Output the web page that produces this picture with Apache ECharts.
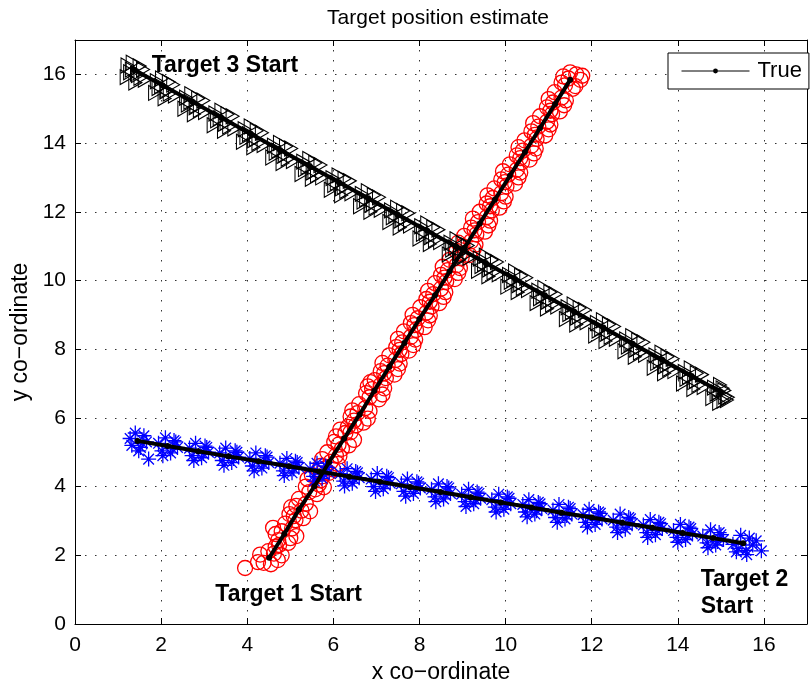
<!DOCTYPE html>
<html>
<head>
<meta charset="utf-8">
<title>Target position estimate</title>
<script src="https://cdn.jsdelivr.net/npm/echarts@6/dist/echarts.min.js"></script>
<style>
  html, body { margin: 0; padding: 0; background: #fff; }
  #chart { width: 810px; height: 689px; }
</style>
</head>
<body>
<div id="chart"></div>
<script>
// Axis ticks
const xTicks = [0, 2, 4, 6, 8, 10, 12, 14, 16];
const yTicks = [0, 2, 4, 6, 8, 10, 12, 14, 16];

// True trajectories (one point per time step)
const target1True = [
  [4.51,1.93],[4.86,2.62],[5.20,3.33],[5.56,4.01],[5.90,4.71],[6.25,5.40],[6.61,6.10],
  [6.95,6.79],[7.30,7.49],[7.65,8.18],[8.00,8.88],[8.36,9.57],[8.70,10.27],[9.05,10.96],
  [9.40,11.66],[9.75,12.35],[10.10,13.05],[10.45,13.74],[10.80,14.44],[11.15,15.14],[11.50,15.84]
];
const target2True = [
  [15.52,2.35],[14.82,2.50],[14.11,2.65],[13.41,2.80],[12.71,2.95],[12.00,3.10],[11.30,3.24],
  [10.60,3.39],[9.89,3.54],[9.19,3.69],[8.49,3.84],[7.78,3.99],[7.08,4.14],[6.37,4.29],
  [5.67,4.44],[4.97,4.59],[4.26,4.74],[3.56,4.88],[2.86,5.03],[2.15,5.18],[1.45,5.33]
];
const target3True = [
  [1.35,16.15],[2.03,15.68],[2.72,15.21],[3.40,14.74],[4.08,14.27],[4.76,13.80],[5.45,13.33],
  [6.13,12.86],[6.81,12.39],[7.49,11.92],[8.18,11.45],[8.86,10.98],[9.54,10.51],[10.22,10.04],
  [10.91,9.57],[11.59,9.10],[12.27,8.63],[12.95,8.16],[13.64,7.69],[14.32,7.22],[15.00,6.75]
];

// Position estimates (circles)
const target1Est = [
  [4.38,1.78],[4.62,2.05],[4.25,1.80],[4.71,1.86],[4.49,2.12],[3.95,1.63],[4.80,2.00],[4.55,1.74],[4.30,2.02],[4.66,2.25],
  [4.72,2.44],[5.04,2.78],[4.66,2.62],[4.95,2.36],[4.88,2.92],[5.14,2.56],[4.60,2.80],[4.80,2.70],[5.00,2.50],[4.74,2.30],
  [5.08,3.14],[5.36,3.50],[5.02,3.40],[5.30,3.08],[5.20,3.64],[5.46,3.28],[4.98,3.20],[5.14,3.44],[5.26,3.30],[5.12,3.02],
  [5.44,3.84],[5.70,4.18],[5.62,3.78],[5.40,4.22],[5.78,3.98],[5.50,4.34],[5.66,4.06],[5.36,4.00],[5.58,3.92],[5.74,4.30],
  [5.80,4.52],[6.06,4.90],[5.74,4.80],[6.00,4.50],[6.10,4.66],[5.86,5.00],[5.94,4.72],[5.70,4.60],[6.14,4.88],[5.90,4.40],
  [6.12,5.22],[6.40,5.58],[6.16,5.66],[6.36,5.20],[6.06,5.46],[6.48,5.36],[6.28,5.56],[6.20,5.10],[6.02,5.30],[6.34,5.74],
  [6.48,5.92],[6.74,6.28],[6.44,6.22],[6.80,5.98],[6.60,6.40],[6.70,5.86],[6.40,6.04],[6.56,6.14],[6.84,6.20],[6.52,5.78],
  [6.84,6.60],[7.10,6.96],[6.80,6.92],[7.14,6.68],[6.96,7.10],[7.06,6.54],[6.76,6.72],[6.90,6.84],[7.18,6.86],[6.86,7.04],
  [7.18,7.30],[7.44,7.68],[7.14,7.60],[7.42,7.26],[7.30,7.82],[7.50,7.42],[7.10,7.36],[7.26,7.52],[7.54,7.58],[7.22,7.16],
  [7.54,7.98],[7.80,8.36],[7.50,8.30],[7.76,7.96],[7.64,8.52],[7.86,8.12],[7.46,8.06],[7.60,8.20],[7.90,8.28],[7.58,7.86],
  [7.88,8.70],[8.16,9.06],[7.84,9.00],[8.12,8.64],[8.02,9.22],[8.20,8.84],[7.80,8.76],[7.96,8.90],[8.24,8.98],[7.92,8.56],
  [8.24,9.38],[8.50,9.76],[8.20,9.70],[8.46,9.34],[8.36,9.92],[8.56,9.52],[8.16,9.46],[8.32,9.60],[8.60,9.66],[8.28,9.24],
  [8.58,10.08],[8.86,10.44],[8.54,10.40],[8.82,10.04],[8.70,10.60],[8.90,10.22],[8.50,10.16],[8.66,10.30],[8.94,10.36],[8.62,9.96],
  [8.94,10.78],[9.20,11.14],[8.90,11.10],[9.16,10.74],[9.04,11.30],[9.26,10.92],[8.86,10.86],[9.00,11.00],[9.30,11.04],[8.98,10.66],
  [9.28,11.46],[9.56,11.84],[9.24,11.80],[9.52,11.42],[9.40,12.00],[9.60,11.60],[9.20,11.54],[9.36,11.70],[9.64,11.74],[9.32,11.34],
  [9.64,12.16],[9.90,12.54],[9.58,12.48],[9.86,12.12],[9.74,12.68],[9.96,12.30],[9.56,12.24],[9.70,12.40],[10.00,12.44],[9.68,12.04],
  [9.98,12.86],[10.26,13.22],[9.94,13.18],[10.22,12.82],[10.10,13.38],[10.30,13.00],[9.90,12.94],[10.06,13.08],[10.34,13.14],[10.02,12.74],
  [10.34,13.56],[10.60,13.92],[10.30,13.88],[10.56,13.52],[10.44,14.08],[10.66,13.70],[10.26,13.64],[10.40,13.78],[10.70,13.84],[10.38,13.44],
  [10.68,14.24],[10.96,14.62],[10.64,14.58],[10.92,14.22],[10.80,14.78],[11.00,14.40],[10.60,14.34],[10.76,14.48],[11.04,14.54],[10.72,14.12],
  [11.04,14.94],[11.30,15.32],[11.00,15.28],[11.26,14.92],[11.14,15.48],[11.36,15.10],[10.96,15.04],[11.10,15.18],[11.40,15.24],[11.08,14.84],
  [11.38,15.68],[11.64,16.00],[11.34,15.94],[11.62,15.66],[11.50,16.06],[11.74,15.84],[11.30,15.76],[11.46,15.88],[11.78,15.96],[11.56,15.58]
];
// Position estimates (asterisks)
const target2Est = [
  [15.40,2.20],[15.66,2.50],[15.58,2.14],[15.94,2.13],[15.28,2.32],[15.74,2.30],[15.46,2.58],[15.60,2.02],[15.82,2.42],[15.36,2.10],
  [14.68,2.36],[14.96,2.66],[14.88,2.30],[14.58,2.56],[15.06,2.46],[14.76,2.74],[14.92,2.40],[14.70,2.22],[15.00,2.60],
  [13.98,2.52],[14.26,2.82],[14.18,2.46],[13.90,2.72],[14.34,2.62],[14.06,2.90],[14.22,2.58],[14.00,2.38],[14.30,2.78],
  [13.28,2.66],[13.56,2.96],[13.48,2.60],[13.20,2.88],[13.64,2.78],[13.36,3.04],[13.52,2.72],[13.30,2.52],[13.60,2.92],
  [12.58,2.82],[12.86,3.10],[12.78,2.76],[12.50,3.02],[12.94,2.92],[12.66,3.20],[12.82,2.88],[12.60,2.66],[12.90,3.06],
  [11.86,2.96],[12.16,3.26],[12.08,2.90],[11.80,3.18],[12.24,3.06],[11.94,3.34],[12.12,3.02],[11.90,2.82],[12.20,3.22],
  [11.16,3.10],[11.46,3.40],[11.38,3.06],[11.10,3.32],[11.54,3.20],[11.24,3.48],[11.42,3.16],[11.20,2.96],[11.50,3.36],
  [10.46,3.26],[10.76,3.54],[10.68,3.20],[10.40,3.48],[10.84,3.36],[10.54,3.62],[10.72,3.30],[10.50,3.12],[10.80,3.50],
  [9.76,3.40],[10.04,3.70],[9.96,3.34],[9.68,3.62],[10.12,3.50],[9.84,3.78],[10.00,3.46],[9.78,3.26],[10.08,3.66],
  [9.06,3.56],[9.34,3.84],[9.26,3.50],[8.98,3.78],[9.42,3.66],[9.14,3.92],[9.30,3.62],[9.08,3.42],[9.38,3.80],
  [8.36,3.70],[8.64,4.00],[8.56,3.64],[8.28,3.92],[8.72,3.80],[8.44,4.08],[8.60,3.76],[8.38,3.56],[8.68,3.96],
  [7.64,3.86],[7.94,4.14],[7.86,3.80],[7.58,4.08],[8.02,3.96],[7.72,4.22],[7.90,3.92],[7.68,3.72],[7.98,4.10],
  [6.94,4.00],[7.24,4.30],[7.16,3.94],[6.88,4.22],[7.32,4.10],[7.02,4.38],[7.20,4.06],[6.98,3.86],[7.28,4.26],
  [6.24,4.16],[6.52,4.44],[6.44,4.10],[6.16,4.38],[6.60,4.26],[6.32,4.52],[6.48,4.22],[6.26,4.02],[6.56,4.40],
  [5.54,4.30],[5.82,4.60],[5.74,4.24],[5.46,4.52],[5.90,4.40],[5.62,4.68],[5.78,4.36],[5.56,4.16],[5.86,4.56],
  [4.84,4.46],[5.12,4.74],[5.04,4.40],[4.76,4.68],[5.20,4.56],[4.92,4.82],[5.08,4.52],[4.86,4.32],[5.16,4.70],
  [4.12,4.60],[4.42,4.90],[4.34,4.54],[4.06,4.82],[4.50,4.70],[4.20,4.98],[4.38,4.66],[4.16,4.46],[4.46,4.86],
  [3.42,4.76],[3.72,5.04],[3.64,4.70],[3.36,4.98],[3.80,4.86],[3.50,5.12],[3.68,4.82],[3.46,4.62],[3.76,5.00],
  [2.72,4.90],[3.02,5.18],[2.94,4.84],[2.66,5.12],[3.10,5.00],[2.80,5.26],[2.98,4.96],[2.76,4.76],[3.06,5.14],
  [2.02,5.04],[2.30,5.34],[2.22,4.98],[1.94,5.26],[2.38,5.14],[2.10,5.42],[2.26,5.10],[2.04,4.90],[2.34,5.30],
  [1.32,5.20],[1.60,5.48],[1.52,5.14],[1.71,4.80],[1.66,5.30],[1.40,5.56],[1.56,5.26],[1.28,5.40],[1.48,5.04]
];
// Position estimates (triangles)
const target3Est = [
  [1.22,16.26],[1.44,16.02],[1.34,16.34],[1.52,15.90],[1.28,16.06],[1.58,16.14],[1.40,15.76],[1.20,15.92],[1.50,16.24],[1.62,15.84],[1.32,16.14],[1.46,15.98],
  [1.90,15.80],[2.14,15.54],[2.02,15.88],[2.20,15.44],[1.94,15.60],[2.28,15.70],[2.08,15.30],[1.86,15.46],[2.18,15.78],[2.32,15.38],[2.00,15.66],[2.12,15.50],
  [2.58,15.32],[2.82,15.08],[2.70,15.42],[2.90,14.96],[2.62,15.12],[2.98,15.24],[2.76,14.84],[2.54,15.00],[2.86,15.30],[3.02,14.90],[2.68,15.20],[2.80,15.04],
  [3.26,14.86],[3.52,14.60],[3.40,14.94],[3.58,14.48],[3.30,14.66],[3.66,14.78],[3.46,14.36],[3.22,14.52],[3.54,14.84],[3.70,14.42],[3.36,14.72],[3.48,14.56],
  [3.94,14.40],[4.20,14.12],[4.08,14.48],[4.26,14.00],[3.98,14.18],[4.34,14.30],[4.14,13.88],[3.90,14.04],[4.22,14.36],[4.38,13.94],[4.04,14.26],[4.16,14.08],
  [4.62,13.92],[4.88,13.66],[4.76,14.00],[4.94,13.54],[4.66,13.72],[5.02,13.84],[4.82,13.42],[4.58,13.58],[4.90,13.90],[5.06,13.48],[4.72,13.78],[4.84,13.62],
  [5.30,13.46],[5.56,13.18],[5.44,13.54],[5.62,13.06],[5.34,13.24],[5.70,13.36],[5.50,12.96],[5.26,13.10],[5.58,13.42],[5.74,13.00],[5.40,13.30],[5.52,13.14],
  [5.98,12.98],[6.24,12.72],[6.12,13.06],[6.30,12.60],[6.02,12.78],[6.38,12.90],[6.18,12.48],[5.94,12.64],[6.26,12.96],[6.42,12.54],[6.08,12.84],[6.20,12.68],
  [6.66,12.52],[6.92,12.24],[6.80,12.60],[6.98,12.12],[6.70,12.30],[7.06,12.42],[6.86,12.00],[6.62,12.16],[6.94,12.48],[7.10,12.06],[6.76,12.36],[6.88,12.20],
  [7.34,12.04],[7.60,11.78],[7.48,12.12],[7.66,11.66],[7.38,11.84],[7.74,11.96],[7.54,11.54],[7.30,11.70],[7.62,12.02],[7.78,11.60],[7.44,11.90],[7.56,11.74],
  [8.04,11.58],[8.30,11.30],[8.18,11.66],[8.36,11.18],[8.08,11.36],[8.44,11.48],[8.24,11.06],[8.00,11.22],[8.32,11.54],[8.48,11.12],[8.14,11.42],[8.26,11.26],
  [8.72,11.10],[8.98,10.84],[8.86,11.20],[9.04,10.72],[8.76,10.90],[9.12,11.02],[8.92,10.60],[8.68,10.76],[9.00,11.08],[9.16,10.66],[8.82,10.96],[8.94,10.80],
  [9.40,10.64],[9.66,10.36],[9.54,10.72],[9.72,10.24],[9.44,10.42],[9.80,10.54],[9.60,10.12],[9.36,10.28],[9.68,10.60],[9.84,10.18],[9.50,10.48],[9.62,10.32],
  [10.08,10.16],[10.34,9.90],[10.22,10.26],[10.40,9.78],[10.12,9.96],[10.48,10.08],[10.28,9.66],[10.04,9.82],[10.36,10.14],[10.52,9.72],[10.18,10.02],[10.30,9.86],
  [10.76,9.70],[11.02,9.42],[10.90,9.78],[11.08,9.30],[10.80,9.48],[11.16,9.60],[10.96,9.18],[10.72,9.34],[11.04,9.66],[11.20,9.24],[10.86,9.54],[10.98,9.38],
  [11.44,9.22],[11.70,8.96],[11.58,9.30],[11.76,8.84],[11.48,9.02],[11.84,9.14],[11.64,8.72],[11.40,8.88],[11.72,9.20],[11.88,8.78],[11.54,9.08],[11.66,8.92],
  [12.12,8.76],[12.38,8.48],[12.26,8.84],[12.44,8.36],[12.16,8.54],[12.52,8.66],[12.32,8.24],[12.08,8.40],[12.40,8.72],[12.56,8.30],[12.22,8.60],[12.34,8.44],
  [12.80,8.28],[13.06,8.02],[12.94,8.38],[13.12,7.90],[12.84,8.08],[13.20,8.20],[13.00,7.78],[12.76,7.94],[13.08,8.26],[13.24,7.84],[12.90,8.14],[13.02,7.98],
  [13.48,7.82],[13.74,7.54],[13.62,7.90],[13.80,7.42],[13.52,7.60],[13.88,7.72],[13.68,7.30],[13.44,7.46],[13.76,7.78],[13.92,7.36],[13.58,7.66],[13.70,7.50],
  [14.16,7.34],[14.42,7.08],[14.30,7.44],[14.48,6.96],[14.20,7.14],[14.56,7.26],[14.36,6.84],[14.12,7.00],[14.44,7.30],[14.60,6.90],[14.26,7.20],[14.38,7.04],
  [14.84,6.88],[15.10,6.62],[14.98,6.96],[15.14,6.52],[14.90,6.70],[15.08,6.80],[14.96,6.44],[14.80,6.58],[15.04,6.86],[15.16,6.60],[14.94,6.74],[15.06,6.50]
];

// Start annotations
const startLabels = ['Target 1 Start', 'Target 2\nStart', 'Target 3 Start'];
const startLabelPos = [[3.26, 0.86], [14.53, 0.91], [1.78, 16.24]];

const FONT = '"Liberation Sans", Arial, Helvetica, sans-serif';
const ASTERISK = 'path://M0 5L10 5M5 0L5 10M1.46 1.46L8.54 8.54M1.46 8.54L8.54 1.46';

const chart = echarts.init(document.getElementById('chart'), null, { renderer: 'canvas' });

const xFmt = v => (xTicks.indexOf(v) >= 0 ? String(v) : '');
const yFmt = v => (yTicks.indexOf(v) >= 0 ? String(v) : '');

const gridLine = { show: true, lineStyle: { color: '#333', width: 1, type: [1.5, 8.5] } };

const trueSeries = (data) => ({
  type: 'line',
  name: 'True',
  data: data,
  symbol: 'circle',
  symbolSize: 6,
  showAllSymbol: true,
  lineStyle: { color: '#000', width: 4 },
  itemStyle: { color: '#000' },
  z: 4,
  silent: true
});

const frameAxis = (position) => ({
  type: 'value', position: position, min: 0, max: 17, interval: 2,
  axisLine: { show: true, onZero: false, lineStyle: { color: '#000', width: 1 } },
  axisTick: { show: true, inside: true, length: 6, lineStyle: { color: '#000' } },
  axisLabel: { show: false },
  splitLine: { show: false }
});

// Hollow marker style for the estimate clouds
const hollow = (stroke, width) => ({
  color: 'rgba(0,0,0,0)', borderColor: stroke, borderWidth: width, opacity: 1
});

chart.setOption({
  animation: false,
  backgroundColor: '#fff',
  textStyle: { fontFamily: FONT },
  title: {
    text: 'Target position estimate',
    left: 433,
    top: 3,
    textAlign: 'center',
    textStyle: { fontFamily: FONT, fontSize: 21, fontWeight: 'normal', color: '#000' }
  },
  legend: {
    data: ['True'],
    left: 668,
    top: 53,
    orient: 'horizontal',
    backgroundColor: '#fff',
    borderColor: '#000',
    borderWidth: 1,
    borderRadius: 0,
    padding: [7, 7, 7, 13],
    itemWidth: 68,
    itemHeight: 6,
    itemGap: 0,
    lineStyle: { width: 1, color: '#000' },
    textStyle: { fontFamily: FONT, fontSize: 22, color: '#000', padding: [0, 0, 0, 3] },
    selectedMode: false
  },
  grid: { left: 75, right: -12, top: 40, bottom: 59, containLabel: false },
  xAxis: [
    {
      type: 'value', position: 'bottom', min: 0, max: 17, interval: 2,
      name: 'x co\u2212ordinate', nameLocation: 'middle', nameGap: 37,
      nameTextStyle: { fontFamily: FONT, fontSize: 23, color: '#000' },
      axisLine: { show: true, onZero: false, lineStyle: { color: '#000', width: 1 } },
      axisTick: { show: true, inside: true, length: 6, lineStyle: { color: '#000' } },
      axisLabel: { fontFamily: FONT, fontSize: 21, color: '#000', margin: 11, formatter: xFmt },
      splitLine: gridLine
    },
    frameAxis('top')
  ],
  yAxis: [
    {
      type: 'value', position: 'left', min: 0, max: 17, interval: 2,
      name: 'y co\u2212ordinate', nameLocation: 'middle', nameGap: 41, nameRotate: 90,
      nameTextStyle: { fontFamily: FONT, fontSize: 23, color: '#000' },
      axisLine: { show: true, onZero: false, lineStyle: { color: '#000', width: 1 } },
      axisTick: { show: true, inside: true, length: 6, lineStyle: { color: '#000' } },
      axisLabel: { fontFamily: FONT, fontSize: 21, color: '#000', margin: 9, formatter: yFmt },
      splitLine: gridLine
    },
    frameAxis('right')
  ],
  series: [
    {
      type: 'scatter', name: 'Target 1 estimate', data: target1Est,
      symbol: 'circle', symbolSize: 15,
      itemStyle: hollow('#ff0000', 1.3),
      z: 2, silent: true
    },
    {
      type: 'scatter', name: 'Target 2 estimate', data: target2Est,
      symbol: ASTERISK, symbolSize: 15,
      itemStyle: hollow('#0000ff', 1.3),
      z: 2, silent: true
    },
    {
      type: 'scatter', name: 'Target 3 estimate', data: target3Est,
      symbol: 'triangle', symbolRotate: -90, symbolSize: [15, 13],
      itemStyle: hollow('#000000', 1.1),
      z: 2, silent: true
    },
    trueSeries(target1True),
    trueSeries(target2True),
    trueSeries(target3True),
    {
      type: 'scatter', name: 'Start labels',
      data: startLabelPos.map((p, i) => ({ value: p, name: startLabels[i] })),
      symbolSize: 0,
      itemStyle: { opacity: 1 },
      z: 5, silent: true,
      label: {
        show: true, position: 'right', distance: 0,
        formatter: p => p.name,
        fontFamily: FONT, fontSize: 23, fontWeight: 'bold', color: '#000', opacity: 1,
        lineHeight: 27, align: 'left', verticalAlign: 'middle'
      }
    }
  ]
});
</script>
</body>
</html>
